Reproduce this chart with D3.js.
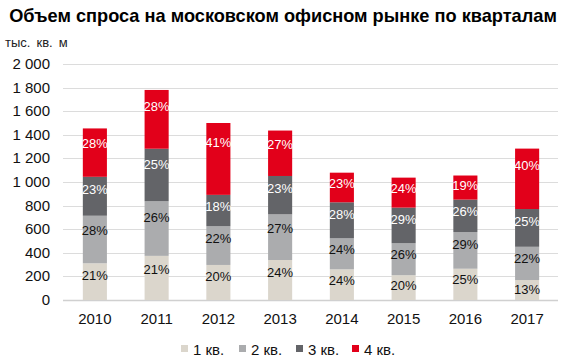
<!DOCTYPE html>
<html>
<head>
<meta charset="utf-8">
<script src="https://cdn.jsdelivr.net/npm/d3@7"></script>
<style>
  body { margin: 0; background: #fff; }
  text { font-family: "Liberation Sans", Arial, sans-serif; }
</style>
</head>
<body>
<div id="app"></div>
<script>
const years = ["2010", "2011", "2012", "2013", "2014", "2015", "2016", "2017"];
const quarters = ["1 кв.", "2 кв.", "3 кв.", "4 кв."];
// thousand sq. m per quarter
const q1 = [311, 374, 297, 339, 260, 210, 265, 169];
const q2 = [403, 463, 328, 387, 263, 271, 311, 282];
const q3 = [330, 445, 266, 325, 305, 302, 275, 320];
const q4 = [410, 498, 609, 385, 251, 254, 204, 512];
const yTicks = [0, 200, 400, 600, 800, 1000, 1200, 1400, 1600, 1800, 2000];

const colors = ["#dbd6cc", "#abacae", "#636468", "#e2001a"];
const labelColors = ["#111", "#111", "#fff", "#fff"];

const width = 568, height = 363;

const rows = years.map((y, i) => ({year: y, q0: q1[i], q1: q2[i], q2: q3[i], q3: q4[i]}));
const keys = ["q0", "q1", "q2", "q3"];
const series = d3.stack().keys(keys)(rows);

const x = d3.scaleBand().domain(years).range([64, 558]).paddingInner(0.61).paddingOuter(0.305);
const y = d3.scaleLinear().domain([0, 2000]).range([300, 64]);

const svg = d3.select("#app").append("svg")
    .attr("width", width)
    .attr("height", height)
    .attr("viewBox", [0, 0, width, height]);

svg.append("text")
    .attr("x", 283)
    .attr("y", 22)
    .attr("text-anchor", "middle")
    .attr("font-size", 18.2)
    .attr("font-weight", "bold")
    .attr("fill", "#000")
    .text("Объем спроса на московском офисном рынке по кварталам");

svg.append("text")
    .attr("x", 5)
    .attr("y", 47)
    .attr("font-size", 13)
    .attr("word-spacing", 2.5)
    .attr("fill", "#222")
    .text("тыс. кв. м");

// gridlines
svg.append("g")
  .selectAll("line")
  .data(yTicks)
  .join("line")
    .attr("x1", 63)
    .attr("x2", 558)
    .attr("y1", d => Math.round(y(d)) + 0.5)
    .attr("y2", d => Math.round(y(d)) + 0.5)
    .attr("stroke", d => d === 0 ? "#d0d0d0" : "#dcdcdc")
    .attr("stroke-width", d => d === 0 ? 1.5 : 1);

const fmt = d => d3.format(",")(d).replace(/,/g, " ");
svg.append("g")
  .selectAll("text")
  .data(yTicks)
  .join("text")
    .attr("x", 50)
    .attr("y", d => y(d) + 5)
    .attr("text-anchor", "end")
    .attr("font-size", 15)
    .attr("fill", "#111")
    .text(fmt);

// bars
const layer = svg.append("g")
  .selectAll("g")
  .data(series)
  .join("g")
    .attr("fill", (d, i) => colors[i]);

layer.selectAll("rect")
  .data(d => d)
  .join("rect")
    .attr("x", d => x(d.data.year))
    .attr("width", x.bandwidth())
    .attr("y", d => y(d[1]))
    .attr("height", d => y(d[0]) - y(d[1]));

// percentage labels
const totals = rows.map(r => keys.reduce((s, k) => s + r[k], 0));
series.forEach((s, si) => {
  svg.append("g")
    .selectAll("text")
    .data(s)
    .join("text")
      .attr("x", d => x(d.data.year) + x.bandwidth() / 2)
      .attr("y", d => {
        const h = y(d[0]) - y(d[1]);
        const mid = (y(d[0]) + y(d[1])) / 2;
        return mid - Math.max(0, 0.3 * h - 5) + 4.5;
      })
      .attr("text-anchor", "middle")
      .attr("font-size", 13)
      .attr("fill", labelColors[si])
      .text((d, i) => Math.round((d[1] - d[0]) / totals[i] * 100) + "%");
});

// x labels
svg.append("g")
  .selectAll("text")
  .data(years)
  .join("text")
    .attr("x", d => x(d) + x.bandwidth() / 2)
    .attr("y", 324)
    .attr("text-anchor", "middle")
    .attr("font-size", 15)
    .attr("fill", "#111")
    .text(d => d);

// legend
const legendX = [181, 239, 296, 352];
const legend = svg.append("g")
  .selectAll("g")
  .data(quarters)
  .join("g")
    .attr("transform", (d, i) => `translate(${legendX[i]},0)`);
legend.append("rect")
    .attr("x", 0)
    .attr("y", 345)
    .attr("width", 7)
    .attr("height", 7)
    .attr("fill", (d, i) => colors[i]);
legend.append("text")
    .attr("x", 12)
    .attr("y", 355)
    .attr("font-size", 15)
    .attr("fill", "#111")
    .text(d => d);
</script>
</body>
</html>
